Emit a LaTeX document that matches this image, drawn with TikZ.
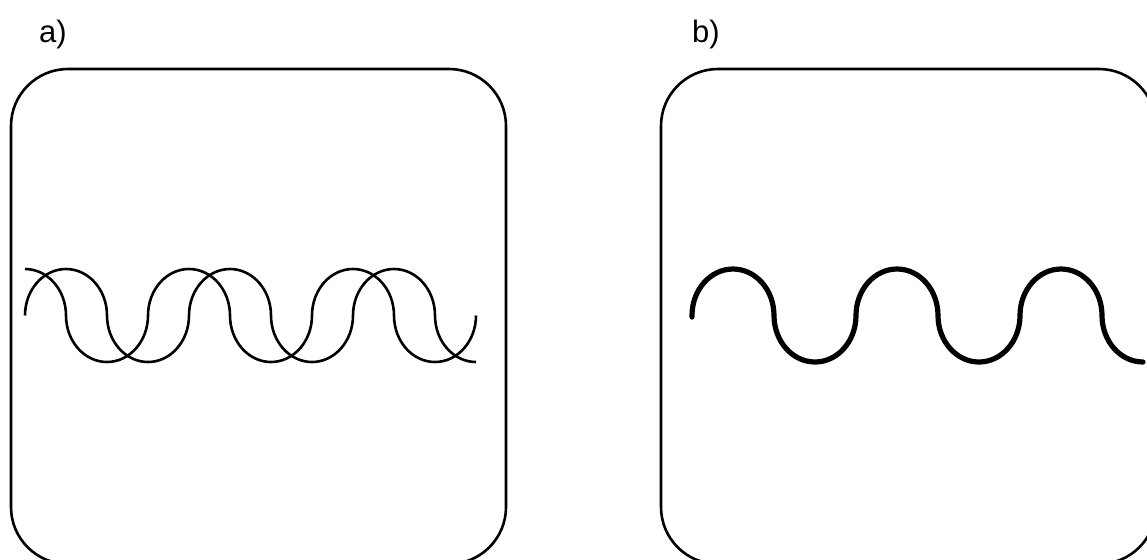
\documentclass[tikz,border=0pt]{standalone}
\usepackage{fontspec}
\setmainfont{Liberation Sans}
\usepackage{tikz}

\begin{document}
\begin{tikzpicture}[x=0.5pt, y=-0.5pt,
  box/.style={line width=1.3pt, rounded corners=28.5pt},
  wavethin/.style={line width=1.3pt},
  wavethick/.style={line width=2.6pt, line cap=round},
  lbl/.style={font=\fontsize{15.5}{18}\selectfont, anchor=base}]
\useasboundingbox (0,0) rectangle (1147,559);
% panels
\draw[box] (11,69) rectangle (506,564);
\draw[box] (661,69) rectangle (1156,564);
\node[lbl] (la) at (53,42) {a)};
\node[lbl] (lb) at (706,42) {b)};
% a) two waves, a quarter period apart
\draw[wavethin] (25,315.5) \foreach \k in {1,2} {
  arc[start angle=180, end angle=360, x radius=41, y radius=46.5]
  arc[start angle=180, end angle=0, x radius=41, y radius=46.5]}
  arc[start angle=180, end angle=360, x radius=41, y radius=46.5]
  arc[start angle=180, end angle=90, x radius=41, y radius=46.5];
\draw[wavethin] (25,269) arc[start angle=270, end angle=360, x radius=41, y radius=46.5]
  \foreach \k in {1,2} {
  arc[start angle=180, end angle=0, x radius=41, y radius=46.5]
  arc[start angle=180, end angle=360, x radius=41, y radius=46.5]}
  arc[start angle=180, end angle=0, x radius=41, y radius=46.5];
% b) the sum
\draw[wavethick] (692,317) -- (692,315.5) \foreach \k in {1,2} {
  arc[start angle=180, end angle=360, x radius=41, y radius=46.5]
  arc[start angle=180, end angle=0, x radius=41, y radius=46.5]}
  arc[start angle=180, end angle=360, x radius=41, y radius=46.5]
  arc[start angle=180, end angle=90, x radius=41, y radius=46.5];
\end{tikzpicture}
\end{document}
